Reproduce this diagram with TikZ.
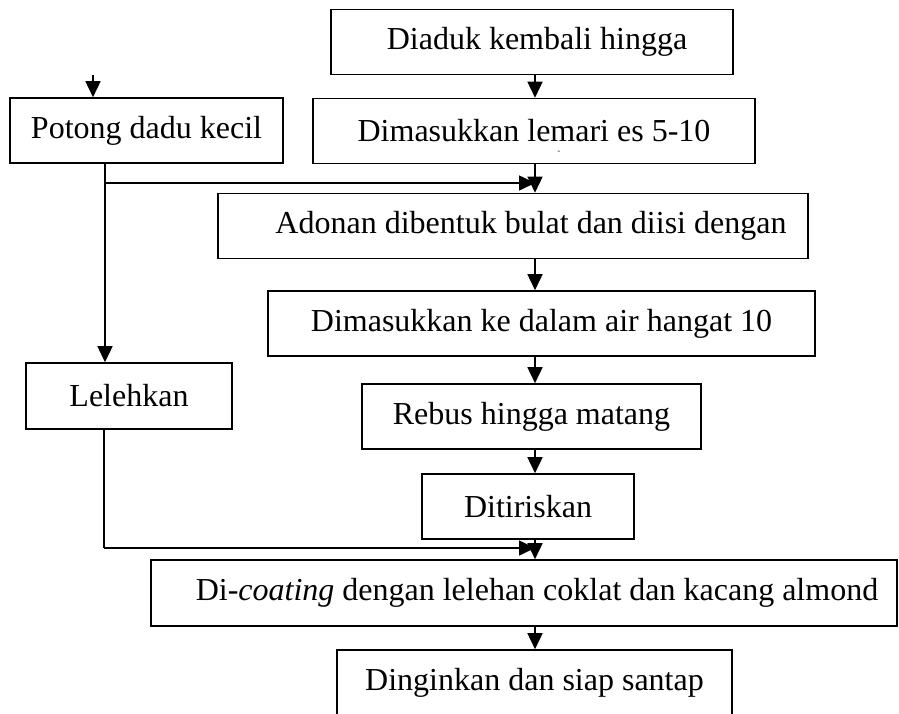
\documentclass[tikz,border=0pt]{standalone}
\usepackage{fontspec}
\setmainfont{Liberation Serif}
\usetikzlibrary{arrows.meta, positioning, calc}

\begin{document}
\begin{tikzpicture}[x=0.5pt, y=-0.5pt,
  box/.style={draw, line width=0.8pt, inner sep=0pt, minimum height=32.5pt,
    font=\fontsize{16}{19}\selectfont},
  arr/.style={-{Triangle[length=8pt,width=7.5pt]}, line width=0.8pt},
  link/.style={line width=0.8pt}]
  \useasboundingbox (0,0) rectangle (899,713);
  % main column
  \coordinate (col) at (535,0);
  \node[box, minimum width=201pt] (diaduk) at (532,42) {\hspace*{5pt}Diaduk kembali hingga};
  \node[box, minimum width=221pt] (lemari) at (534,131) {Dimasukkan lemari es 5-10};
  \node[font=\fontsize{4}{4}\selectfont, inner sep=0pt] (mark) at (559,152) {-};
  \node[box, minimum width=295pt] (adonan) at (513,226) {\hspace*{18pt}Adonan dibentuk bulat dan diisi dengan};
  \node[box, minimum width=273.5pt] (air) at (541.5,323.5) {Dimasukkan ke dalam air hangat 10};
  \node[box, minimum width=169.5pt] (rebus) at (531.5,416.5) {Rebus hingga matang};
  \node[box, minimum width=106pt] (tiris) at (528,506.5) {Ditiriskan};
  \node[box, minimum width=373pt, minimum height=33pt] (coating) at (524,593) {\hspace*{13pt}Di-\textit{coating} dengan lelehan coklat dan kacang almond};
  \node[box, minimum width=197.5pt, minimum height=33pt] (dingin) at (534.5,683) {Dinginkan dan siap santap};
  % side column
  \node[box, minimum width=136.5pt] (potong) at (146.5,130.5) {Potong dadu kecil};
  \node[box, minimum width=103pt, minimum height=33pt] (leleh) at (129,396) {Lelehkan};
  \coordinate (in) at (93,75);
  \coordinate (split) at (105,183);
  \coordinate (join) at (104,548);

  \draw[arr] (in) -- (in |- potong.north);
  \draw[arr] (diaduk.south -| col) -- (lemari.north -| col);
  \draw[arr] (lemari.south -| col) -- (adonan.north -| col);
  \draw[arr] (adonan.south -| col) -- (air.north -| col);
  \draw[arr] (air.south -| col) -- (rebus.north -| col);
  \draw[arr] (rebus.south -| col) -- (tiris.north -| col);
  \draw[arr] (tiris.south -| col) -- (coating.north -| col);
  \draw[arr] (coating.south -| col) -- (dingin.north -| col);
  % branches from the side
  \draw[arr] (potong.south -| split) -- (leleh.north -| split);
  \draw[arr] (split) -- (split -| col);
  \draw[link] (leleh.south -| join) -- (join);
  \draw[arr] (join) -- (join -| col);
\end{tikzpicture}
\end{document}
